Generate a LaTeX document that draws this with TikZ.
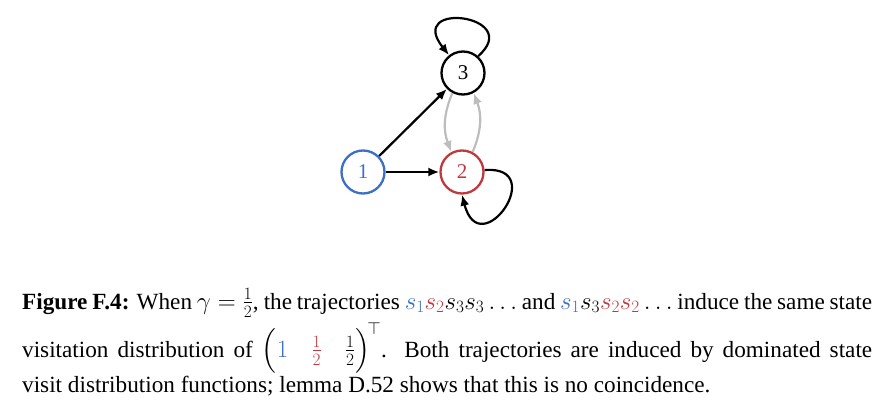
\documentclass[tikz,border=0pt]{standalone}
\usepackage{amsmath}
\usepackage{fontspec}
\setmainfont{Liberation Serif}
\usetikzlibrary{arrows.meta}
\definecolor{cblue}{HTML}{3E6FC2}
\definecolor{cred}{HTML}{C0393F}
\definecolor{cgray}{HTML}{BDBDBD}
\newcommand{\parsize}{\vcenter to 46pt{}}
\begin{document}
\begin{tikzpicture}[x=1pt,y=-1pt,
  state/.style={circle,draw,line width=2.3pt,minimum size=43pt,inner sep=0pt,font=\fontsize{21}{25}\selectfont},
  edge/.style={line width=2.2pt,-{Latex[length=11pt,width=9pt]}},
  grayedge/.style={edge,cgray},
  captext/.style={anchor=base west,inner sep=0pt,font=\fontsize{23.2}{29}\selectfont}]
\useasboundingbox (0,0) rectangle (894,417);
\node[state,cblue] (n1) at (363,172) {1};
\node[state,cred] (n2) at (462,172) {2};
\node[state] (n3) at (463,73) {3};
\draw[edge] (n1) -- (n2);
\draw[edge] (n1) -- (n3);
\draw[grayedge] (n3.242) to[bend right=22] (n2.118);
\draw[grayedge] (n2.62) to[bend right=22] (n3.298);
\draw[edge] (n3.48) .. controls (525,15) and (405,0) .. (n3.128);
\draw[edge] (n2.5) .. controls (550,165) and (480,265) .. (n2.270);
\node[captext] (l1) at (22,309) {\makebox[850pt][s]{\textbf{Figure F.4:} When $\gamma=\frac{1}{2}$, the trajectories ${\color{cblue}s_1}{\color{cred}s_2}s_3s_3\ldots$ and ${\color{cblue}s_1}s_3{\color{cred}s_2s_2}\ldots$ induce the same state}};
\node[captext] (l2) at (22,357) {\makebox[850pt][s]{visitation distribution of $\left(\parsize{\color{cblue}1}\quad{\color{cred}\frac{1}{2}}\quad\frac{1}{2}\right)^{\!\top}$. Both trajectories are induced by dominated state}};
\node[captext] (l3) at (22,392) {visit distribution functions; lemma D.52 shows that this is no coincidence.};
\end{tikzpicture}
\end{document}
